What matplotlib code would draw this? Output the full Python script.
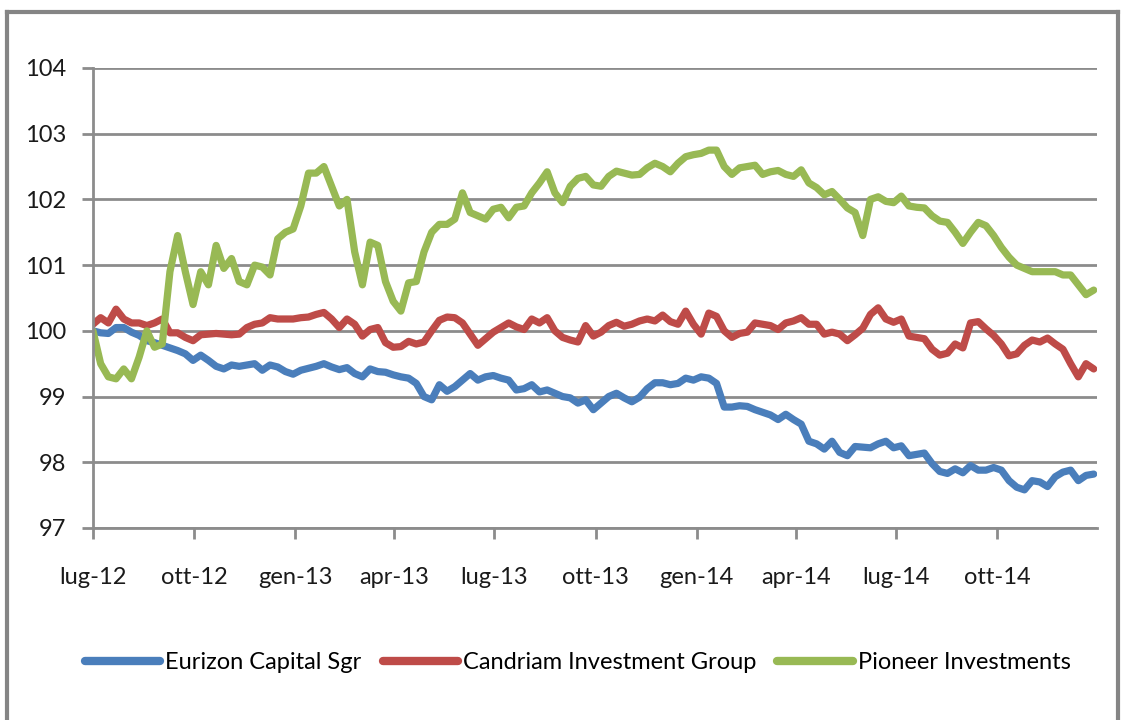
import numpy as np
import pandas as pd
import matplotlib
matplotlib.use("Agg")
import matplotlib.pyplot as plt
import matplotlib.dates as mdates
from matplotlib.ticker import FuncFormatter
from matplotlib.lines import Line2D

plt.rcParams["font.family"] = ["Lato", "DejaVu Sans"]

# weekly observations, Jul 2012 - Dec 2014
dates = pd.date_range("2012-07-01", periods=131, freq="7D")

eurizon = [
    100.0, 99.97, 99.96, 100.05, 100.05, 99.98, 99.93, 99.85, 99.82, 99.78,
    99.74, 99.7, 99.65, 99.55, 99.63, 99.55, 99.46, 99.42, 99.48, 99.46,
    99.48, 99.5, 99.4, 99.48, 99.45, 99.38, 99.34, 99.4, 99.43, 99.46,
    99.5, 99.45, 99.41, 99.44, 99.35, 99.3, 99.42, 99.38, 99.37, 99.33,
    99.3, 99.28, 99.2, 99.0, 98.95, 99.18, 99.08, 99.15, 99.25, 99.35,
    99.25, 99.3, 99.32, 99.28, 99.25, 99.1, 99.12, 99.18, 99.07, 99.1,
    99.05, 99.0, 98.98, 98.9, 98.95, 98.8, 98.9, 99.0, 99.05, 98.98,
    98.92, 98.99, 99.12, 99.21, 99.21, 99.18, 99.2, 99.28, 99.25, 99.3,
    99.28, 99.2, 98.84, 98.84, 98.86, 98.85, 98.8, 98.76, 98.72, 98.65,
    98.73, 98.65, 98.58, 98.32, 98.28, 98.2, 98.32, 98.15, 98.1, 98.24,
    98.23, 98.22, 98.28, 98.32, 98.22, 98.25, 98.1, 98.12, 98.14, 97.98,
    97.86, 97.83, 97.9, 97.84, 97.95, 97.88, 97.88, 97.92, 97.88, 97.72,
    97.62, 97.58, 97.72, 97.7, 97.63, 97.78, 97.85, 97.88, 97.72, 97.8,
    97.82,
]

candriam = [
    100.1, 100.2, 100.12, 100.33, 100.18, 100.12, 100.12, 100.08, 100.12, 100.18,
    99.97, 99.97, 99.9, 99.85, 99.94, 99.95, 99.96, 99.95, 99.94, 99.95,
    100.05, 100.1, 100.12, 100.2, 100.18, 100.18, 100.18, 100.2, 100.21, 100.25,
    100.28, 100.18, 100.05, 100.18, 100.1, 99.92, 100.02, 100.05, 99.82, 99.75,
    99.76, 99.84, 99.8, 99.83, 100.0, 100.16, 100.21, 100.2, 100.12, 99.95,
    99.78, 99.88, 99.98, 100.05, 100.12, 100.06, 100.02, 100.18, 100.12, 100.2,
    100.0, 99.9, 99.86, 99.83, 100.08, 99.92, 99.98, 100.08, 100.13, 100.07,
    100.1, 100.15, 100.18, 100.15, 100.24, 100.14, 100.1, 100.3, 100.1, 99.95,
    100.27, 100.22, 100.0, 99.9, 99.96, 99.98, 100.12, 100.1, 100.08, 100.02,
    100.12, 100.15, 100.2, 100.1, 100.1, 99.95, 99.98, 99.95, 99.85, 99.94,
    100.04, 100.25, 100.35, 100.18, 100.13, 100.18, 99.92, 99.9, 99.88, 99.72,
    99.63, 99.66, 99.8, 99.74, 100.12, 100.14, 100.03, 99.93, 99.8, 99.62,
    99.65, 99.78, 99.86, 99.83, 99.89, 99.8, 99.72, 99.5, 99.3, 99.5,
    99.42,
]

pioneer = [
    100.0, 99.5, 99.3, 99.27, 99.42, 99.27, 99.6, 100.0, 99.75, 99.8,
    100.9, 101.45, 100.9, 100.4, 100.9, 100.7, 101.3, 100.95, 101.1, 100.75,
    100.7, 101.0, 100.97, 100.85, 101.4, 101.5, 101.55, 101.9, 102.4, 102.4,
    102.5, 102.2, 101.9, 102.0, 101.2, 100.7, 101.35, 101.3, 100.75, 100.45,
    100.3, 100.73, 100.75, 101.2, 101.5, 101.62, 101.62, 101.7, 102.1, 101.8,
    101.75, 101.7, 101.85, 101.88, 101.72, 101.88, 101.9, 102.1, 102.25, 102.42,
    102.1, 101.95, 102.2, 102.32, 102.35, 102.22, 102.2, 102.35, 102.43, 102.4,
    102.37, 102.38, 102.48, 102.55, 102.5, 102.42, 102.55, 102.65, 102.68, 102.7,
    102.75, 102.75, 102.5, 102.38, 102.48, 102.5, 102.52, 102.38, 102.42, 102.44,
    102.38, 102.35, 102.45, 102.25, 102.18, 102.07, 102.12, 102.0, 101.87, 101.8,
    101.45, 102.0, 102.04, 101.97, 101.95, 102.05, 101.9, 101.88, 101.87, 101.75,
    101.67, 101.65, 101.5, 101.33, 101.5, 101.65, 101.6, 101.45, 101.27, 101.12,
    101.0, 100.95, 100.9, 100.9, 100.9, 100.9, 100.85, 100.85, 100.7, 100.55,
    100.62,
]

series_names = ["Eurizon Capital Sgr", "Candriam Investment Group", "Pioneer Investments"]
series_colors = ["#4A7EBB", "#BE4B48", "#98B954"]
month_names = {1: "gen", 4: "apr", 7: "lug", 10: "ott"}

fig = plt.figure(figsize=(11.24, 7.2), dpi=100)
ax = fig.add_axes([0.0827, 0.2667, 0.8933, 0.6389])

for vals, name, col in zip([eurizon, candriam, pioneer], series_names, series_colors):
    ax.plot(dates, vals, color=col, lw=5.2, solid_capstyle="round", solid_joinstyle="round", label=name)

ax.set_ylim(97, 104)
ax.set_yticks(range(97, 105))
ax.set_xlim(pd.Timestamp("2012-07-01"), pd.Timestamp("2014-12-31"))
ax.xaxis.set_major_locator(mdates.MonthLocator(bymonth=[1, 4, 7, 10]))
ax.xaxis.set_major_formatter(FuncFormatter(
    lambda x, pos: f"{month_names[mdates.num2date(x).month]}-{mdates.num2date(x).year % 100:02d}"))

grid_col = "#8C8C8C"
ax.grid(axis="y", color=grid_col, lw=2)
ax.set_axisbelow(True)
for s in ["top", "right"]:
    ax.spines[s].set_visible(False)
for s in ["left", "bottom"]:
    ax.spines[s].set_color(grid_col)
    ax.spines[s].set_linewidth(2)
ax.tick_params(axis="y", length=8, width=2, color=grid_col, pad=11, labelsize=17, labelcolor="#1a1a1a")
ax.tick_params(axis="x", length=8, width=2, color=grid_col, pad=20, labelsize=17, labelcolor="#1a1a1a")

handles = [Line2D([0], [0], color=c, lw=6, solid_capstyle="round") for c in series_colors]
fig.legend(handles, series_names, loc="center", bbox_to_anchor=(0.514, 0.08), ncol=3,
           frameon=False, fontsize=17, handlelength=3.2, handletextpad=0.2, columnspacing=0.9)

# outer chart frame
fig.add_artist(plt.Line2D([7 / 1124, 7 / 1124], [0, 1 - 12 / 720], color="#858585", lw=3, transform=fig.transFigure))
fig.add_artist(plt.Line2D([7 / 1124, 1118 / 1124], [1 - 12 / 720, 1 - 12 / 720], color="#858585", lw=3, transform=fig.transFigure))
fig.add_artist(plt.Line2D([1118 / 1124, 1118 / 1124], [0, 1 - 12 / 720], color="#858585", lw=3, transform=fig.transFigure))

fig.savefig("out.png", dpi=100)
